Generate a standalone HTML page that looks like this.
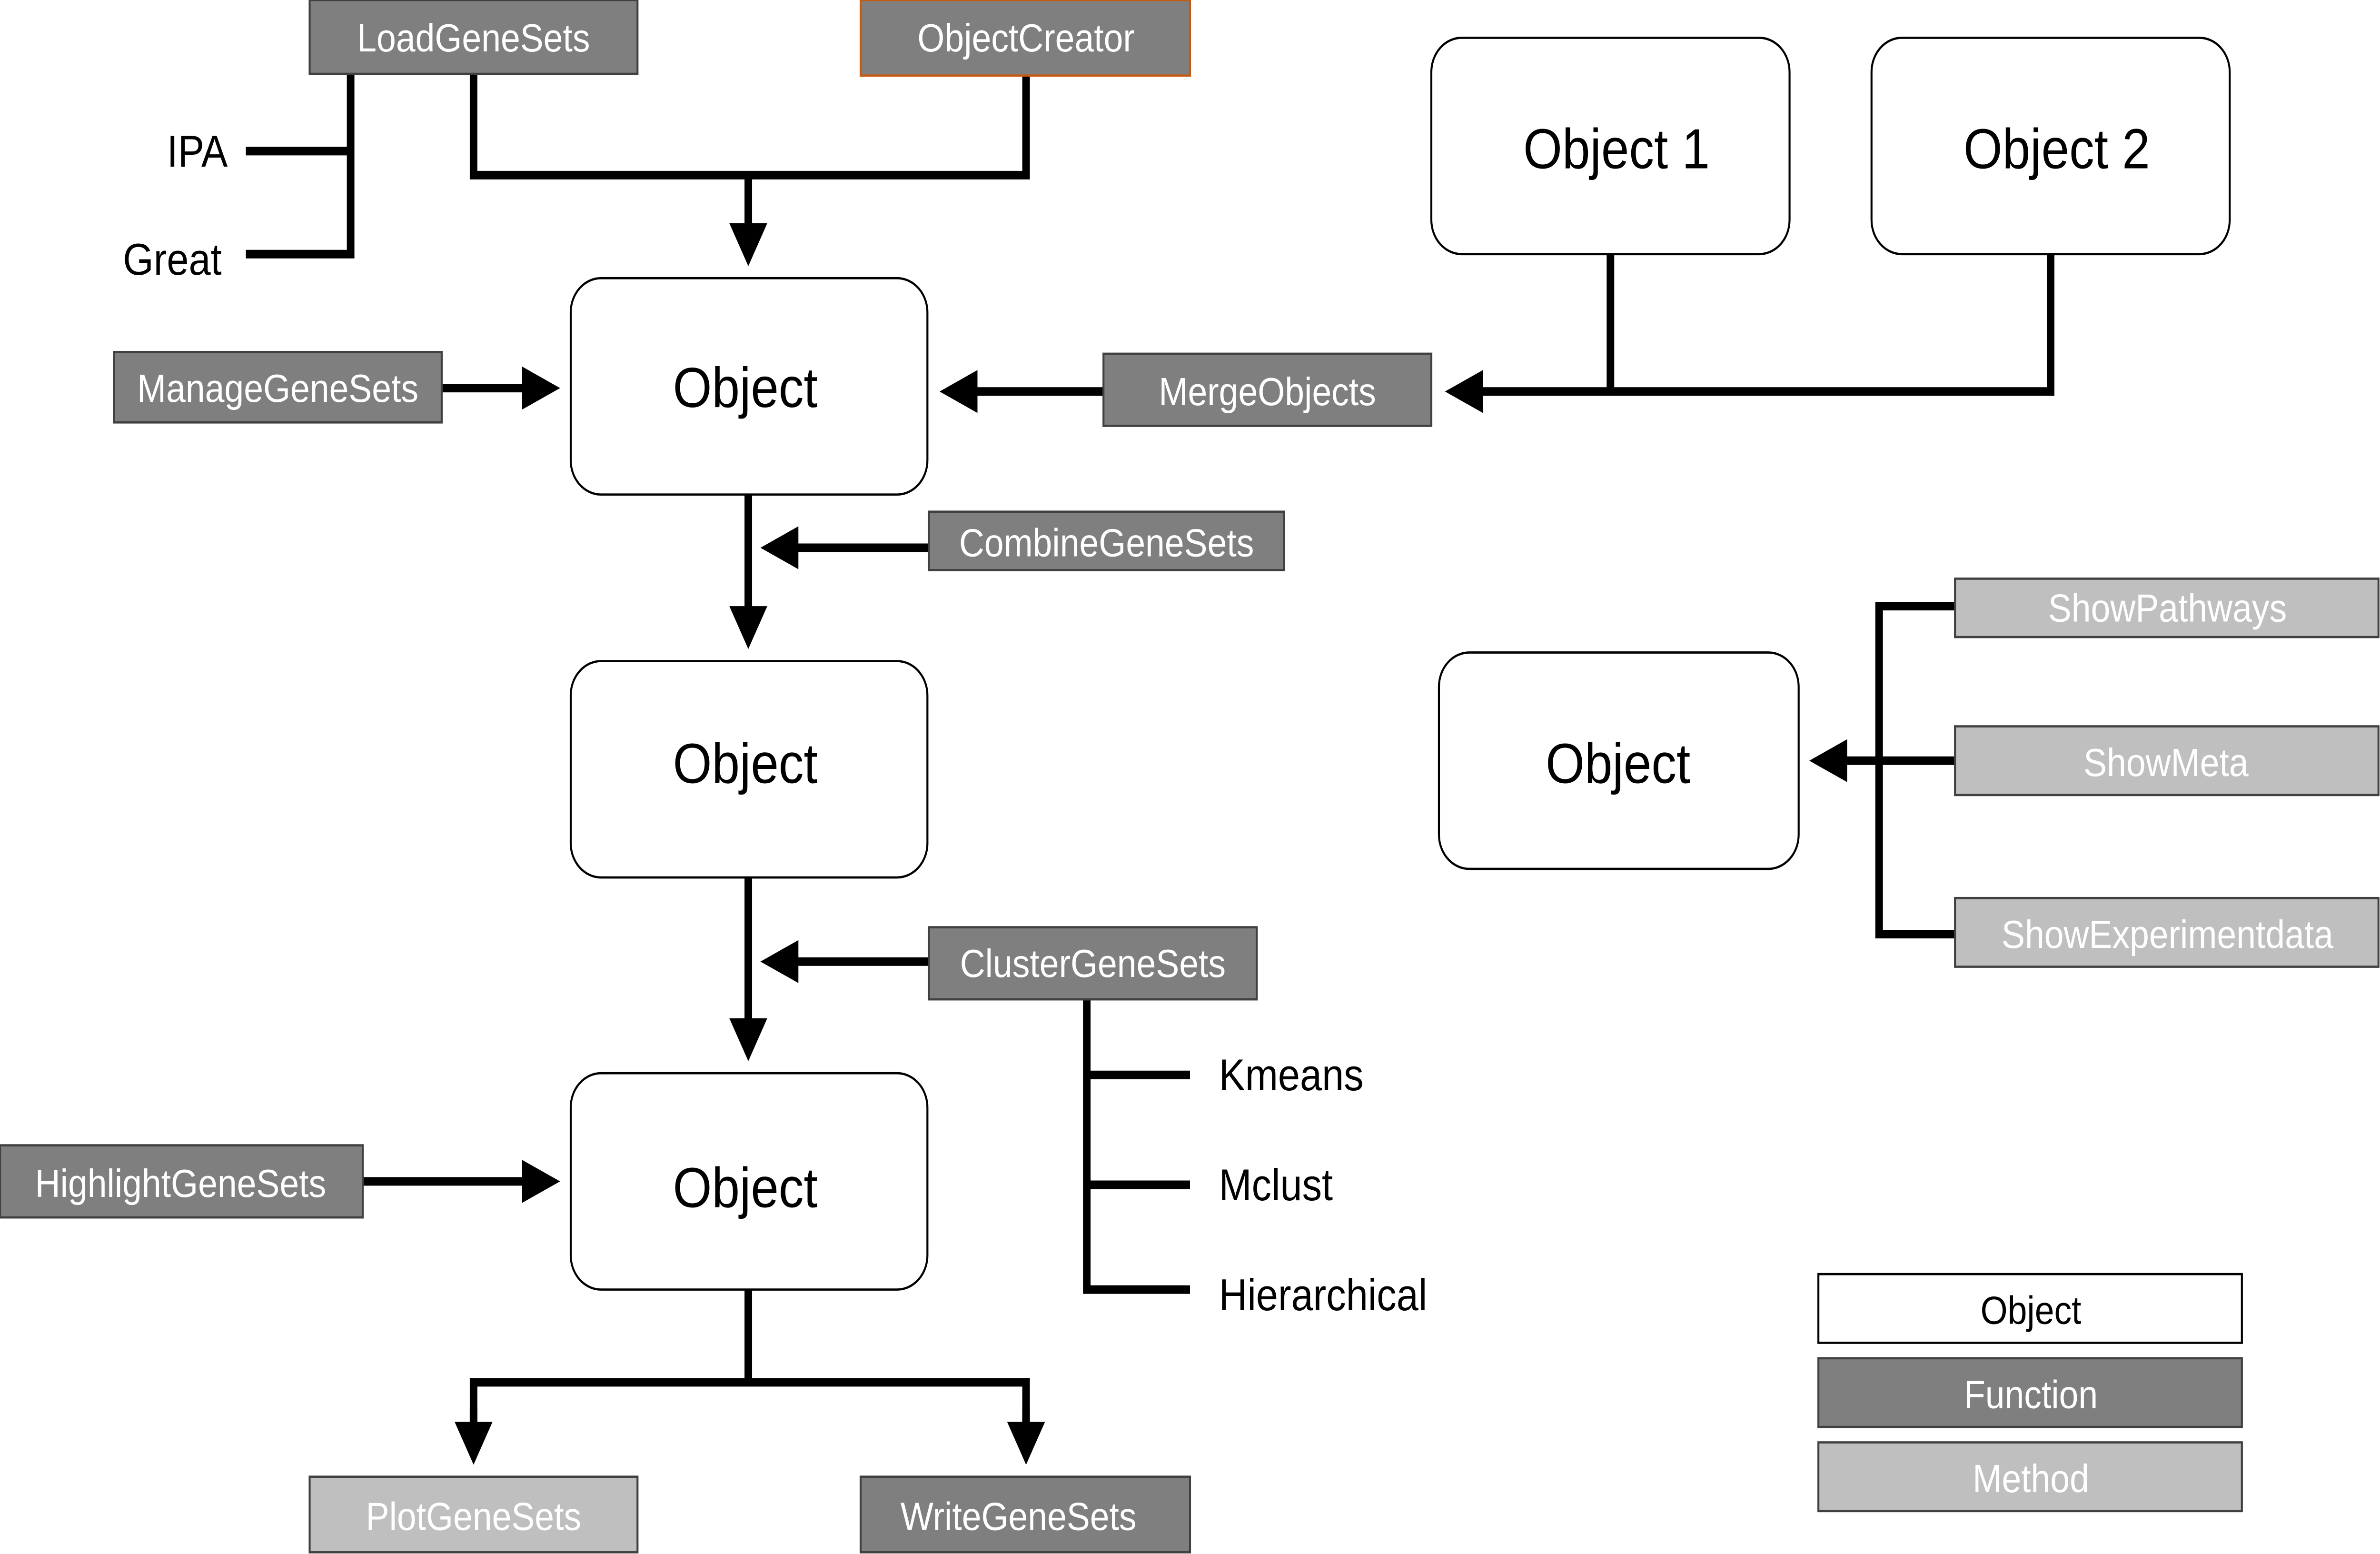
<!DOCTYPE html>
<html><head><meta charset="utf-8"><style>
html,body{margin:0;padding:0;background:#fff;overflow:hidden;width:100%;height:100%;}
svg{display:block;width:100vw;height:100vh;}
text{font-family:"Liberation Sans",sans-serif;}
</style></head><body>
<svg viewBox="0 0 1568 905" preserveAspectRatio="none" xmlns="http://www.w3.org/2000/svg">
<defs>
<marker id="ah" markerWidth="5" markerHeight="5" refX="4" refY="2.5" orient="auto" markerUnits="strokeWidth">
<path d="M0,0 L5,2.5 L0,5 z" fill="#000"/>
</marker>
</defs>
<g stroke="#000" stroke-width="5" fill="none">
<polyline points="312,43 312,102 676,102 676,44"/>
<line x1="493" y1="102" x2="493" y2="150" marker-end="url(#ah)"/>
<polyline points="162,88 231,88"/>
<polyline points="162,148 231,148 231,43"/>
<polyline points="1061,148 1061,228"/>
<polyline points="1351,148 1351,228 960,228"/>
<line x1="960" y1="228" x2="957" y2="228" marker-end="url(#ah)"/>
<line x1="727" y1="228" x2="624" y2="228" marker-end="url(#ah)"/>
<line x1="291" y1="226" x2="364" y2="226" marker-end="url(#ah)"/>
<line x1="493" y1="288" x2="493" y2="373" marker-end="url(#ah)"/>
<line x1="612" y1="319" x2="506" y2="319" marker-end="url(#ah)"/>
<line x1="493" y1="511" x2="493" y2="613" marker-end="url(#ah)"/>
<line x1="612" y1="560" x2="506" y2="560" marker-end="url(#ah)"/>
<line x1="239" y1="688" x2="364" y2="688" marker-end="url(#ah)"/>
<polyline points="716,582 716,751 784,751"/>
<line x1="716" y1="626" x2="784" y2="626"/>
<line x1="716" y1="690" x2="784" y2="690"/>
<line x1="493" y1="751" x2="493" y2="805"/>
<polyline points="312,848 312,805 676,805 676,848"/>
<line x1="312" y1="820" x2="312" y2="848" marker-end="url(#ah)"/>
<line x1="676" y1="820" x2="676" y2="848" marker-end="url(#ah)"/>
<polyline points="1288,353 1238,353 1238,544 1288,544"/>
<line x1="1238" y1="443" x2="1288" y2="443"/>
<line x1="1238" y1="443" x2="1197" y2="443" marker-end="url(#ah)"/>
</g>
<g fill="#fff" stroke="#000" stroke-width="1.3">
<rect x="376" y="162" width="235" height="126" rx="20"/>
<rect x="376" y="385" width="235" height="126" rx="20"/>
<rect x="376" y="625" width="235" height="126" rx="20"/>
<rect x="943" y="22" width="236" height="126" rx="20"/>
<rect x="1233" y="22" width="236" height="126" rx="20"/>
<rect x="948" y="380" width="237" height="126" rx="20"/>
<rect x="1198" y="742" width="279" height="40"/>
</g>
<g font-size="33" text-anchor="middle" fill="#000">
<text x="491" y="237">Object</text>
<text x="491" y="456">Object</text>
<text x="491" y="703">Object</text>
<text x="1065" y="98">Object 1</text>
<text x="1355" y="98">Object 2</text>
<text x="1066" y="456">Object</text>
</g>
<g fill="#7f7f7f" stroke="#404040" stroke-width="1.3">
<rect x="204" y="0" width="216" height="43"/>
<rect x="567" y="0" width="217" height="44" stroke="#c55a11"/>
<rect x="75" y="205" width="216" height="41"/>
<rect x="727" y="206" width="216" height="42"/>
<rect x="612" y="298" width="234" height="34"/>
<rect x="612" y="540" width="216" height="42"/>
<rect x="0" y="667" width="239" height="42"/>
<rect x="567" y="860" width="217" height="44"/>
<rect x="1198" y="791" width="279" height="40"/>
</g>
<g fill="#bfbfbf" stroke="#404040" stroke-width="1.3">
<rect x="204" y="860" width="216" height="44"/>
<rect x="1288" y="337" width="279" height="34"/>
<rect x="1288" y="423" width="279" height="40"/>
<rect x="1288" y="523" width="279" height="40"/>
<rect x="1198" y="840" width="279" height="40"/>
</g>
<g font-size="23" text-anchor="middle" fill="#fff">
<text x="312" y="30">LoadGeneSets</text>
<text x="676" y="30">ObjectCreator</text>
<text x="183" y="234">ManageGeneSets</text>
<text x="835" y="236">MergeObjects</text>
<text x="729" y="324">CombineGeneSets</text>
<text x="720" y="569">ClusterGeneSets</text>
<text x="119" y="697">HighlightGeneSets</text>
<text x="671" y="891">WriteGeneSets</text>
<text x="312" y="891">PlotGeneSets</text>
<text x="1428" y="362">ShowPathways</text>
<text x="1427" y="452">ShowMeta</text>
<text x="1428" y="552">ShowExperimentdata</text>
<text x="1338" y="820">Function</text>
<text x="1338" y="869">Method</text>
</g>
<g font-size="26" fill="#000">
<text x="110" y="97">IPA</text>
<text x="81" y="160">Great</text>
<text x="803" y="635">Kmeans</text>
<text x="803" y="699">Mclust</text>
<text x="803" y="763">Hierarchical</text>
<text x="1338" y="771" font-size="23" text-anchor="middle">Object</text>
</g>
</svg>
</body></html>
